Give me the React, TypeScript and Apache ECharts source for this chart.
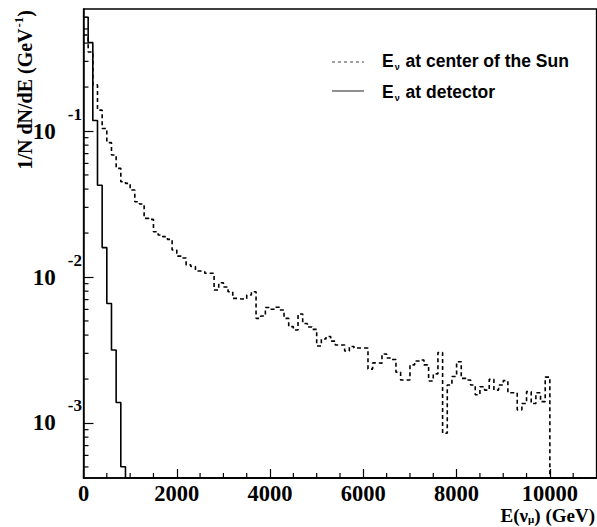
import React, { useEffect, useRef } from 'react';
import * as echarts from 'echarts';

// ---- data (GeV bins of 100) ----
const BIN_WIDTH = 100;
const X_MIN = 0;
const X_MAX = 11000;
const Y_MIN = 4.2e-4;
const Y_MAX = 0.685;

// E_nu at center of the Sun, bins 0-100, 100-200, ... ; last value 0 (empty to the end)
const SUN_CENTER = [
  0.455, 0.348, 0.207, 0.139, 0.104, 0.0832, 0.0685, 0.0555, 0.0449, 0.0438,
  0.0394, 0.0328, 0.0316, 0.0252, 0.0248, 0.0204, 0.0194, 0.0189, 0.0181, 0.0153,
  0.0139, 0.0135, 0.0121, 0.0118, 0.0110, 0.0109, 0.0106, 0.0106, 0.00815, 0.00914,
  0.00854, 0.00793, 0.00714, 0.00707, 0.00707, 0.00753, 0.00793, 0.00521, 0.0054, 0.00618,
  0.00601, 0.0062, 0.00594, 0.00521, 0.00457, 0.00434, 0.00558, 0.0048, 0.00455, 0.00438,
  0.00337, 0.00376, 0.00391, 0.00364, 0.00342, 0.00342, 0.00311, 0.00334, 0.00326, 0.00326,
  0.00326, 0.00234, 0.00258, 0.00257, 0.00297, 0.00279, 0.00272, 0.00223, 0.00197, 0.00197,
  0.0025, 0.00266, 0.0027, 0.0025, 0.00194, 0.00217, 0.00304, 0.00085, 0.00182, 0.00208,
  0.00263, 0.00202, 0.00197, 0.00182, 0.00156, 0.00177, 0.00168, 0.00199, 0.00168, 0.00182,
  0.00195, 0.00161, 0.00161, 0.00123, 0.00136, 0.00164, 0.00136, 0.00161, 0.0014, 0.00206,
  0,
];

// E_nu at detector
const DETECTOR = [0.601, 0.403, 0.118, 0.0425, 0.0159, 0.00659, 0.00316, 0.00138, 0.000502, 0];

const X_TICK_INTERVAL = 2000;
const X_MINOR_TICKS = [500, 1000, 1500, 2500, 3000, 3500, 4500, 5000, 5500, 6500, 7000, 7500, 8500, 9000, 9500, 10500];
const Y_MINOR_TICKS = [
  5e-4, 6e-4, 7e-4, 8e-4, 9e-4,
  2e-3, 3e-3, 4e-3, 5e-3, 6e-3, 7e-3, 8e-3, 9e-3,
  2e-2, 3e-2, 4e-2, 5e-2, 6e-2, 7e-2, 8e-2, 9e-2,
  0.2, 0.3, 0.4, 0.5, 0.6,
];

const LEGEND_SUN = 'at center of the Sun';
const LEGEND_DET = 'at detector';

// ---- helpers ----
function stepPoints(values: number[]) {
  const pts: [number, number][] = values.map((v, i) => [i * BIN_WIDTH, v > 0 ? v : Y_MIN]);
  const last = values[values.length - 1];
  pts.push([X_MAX, last > 0 ? last : Y_MIN]);
  return pts;
}

const serif = '"Liberation Serif", "Times New Roman", serif';
const sans = '"Liberation Sans", Arial, sans-serif';

function buildOption() {
  const minorTick = (dir: 'x' | 'y') => (params: any, api: any) => {
    const p = api.coord([api.value(0), api.value(1)]);
    const shape = dir === 'x'
      ? { x1: p[0], y1: p[1], x2: p[0], y2: p[1] - 5 }
      : { x1: p[0], y1: p[1], x2: p[0] + 5, y2: p[1] };
    return { type: 'line', shape, style: { stroke: '#000', lineWidth: 1.2 } };
  };

  const legendRich = {
    m: { fontFamily: sans, fontWeight: 'bold', fontSize: 17.5, fill: '#000' },
    sub: { fontFamily: sans, fontWeight: 'bold', fontSize: 9, fill: '#000', padding: [11, 1, 0, 1] },
  };

  return {
    animation: false,
    backgroundColor: '#fff',
    grid: {
      left: 83.5, right: 0.5, top: 9, bottom: 49,
      show: true, borderColor: '#000', borderWidth: 1.3, backgroundColor: 'transparent',
    },
    xAxis: {
      type: 'value', min: X_MIN, max: X_MAX, interval: X_TICK_INTERVAL,
      splitLine: { show: false },
      axisLine: { lineStyle: { color: '#000', width: 1.5 } },
      axisTick: { inside: true, length: 9, lineStyle: { color: '#000', width: 1.2 } },
      axisLabel: {
        color: '#000', fontFamily: serif, fontWeight: 'bold', fontSize: 22.5, margin: 4,
        showMaxLabel: false,
        formatter: (v: number) => String(v),
      },
    },
    yAxis: {
      type: 'log', logBase: 10, min: Y_MIN, max: Y_MAX,
      splitLine: { show: false },
      axisLine: { lineStyle: { color: '#000', width: 1.5 } },
      axisTick: { inside: true, length: 10, lineStyle: { color: '#000', width: 1.2 } },
      axisLabel: {
        margin: 1.5, showMinLabel: false, showMaxLabel: false,
        formatter: (v: number) => `{b|10}{s|${Math.round(Math.log10(v))}}`,
        rich: {
          b: { fontFamily: serif, fontWeight: 'bold', fontSize: 23, color: '#000' },
          s: { fontFamily: serif, fontWeight: 'bold', fontSize: 17, color: '#000', padding: [0, 0, 34, 12] },
        },
      },
    },
    series: [
      {
        type: 'line', name: 'sun', data: stepPoints(SUN_CENTER), step: 'end',
        symbol: 'none', showSymbol: false, z: 2,
        lineStyle: { color: '#000', width: 1.6, type: [4, 3] },
      },
      {
        type: 'line', name: 'det', data: stepPoints(DETECTOR), step: 'end',
        symbol: 'none', showSymbol: false, z: 3,
        lineStyle: { color: '#000', width: 1.6 },
      },
      {
        type: 'custom', silent: true, z: 4,
        renderItem: minorTick('x'),
        data: X_MINOR_TICKS.map((x) => [x, Y_MIN]),
      },
      {
        type: 'custom', silent: true, z: 4,
        renderItem: minorTick('y'),
        data: Y_MINOR_TICKS.map((y) => [X_MIN, y]),
      },
    ],
    graphic: [
      {
        type: 'line', shape: { x1: 332, y1: 62, x2: 364, y2: 62 },
        style: { stroke: '#444', lineWidth: 1.2, lineDash: [3, 3] },
      },
      {
        type: 'text', x: 382, y: 61,
        style: {
          text: `{m|E}{sub|ν}{m| ${LEGEND_SUN}}`, align: 'left', verticalAlign: 'middle',
          rich: legendRich,
        },
      },
      {
        type: 'line', shape: { x1: 332, y1: 91, x2: 364, y2: 91 },
        style: { stroke: '#444', lineWidth: 1.2 },
      },
      {
        type: 'text', x: 382, y: 92,
        style: {
          text: `{m|E}{sub|ν}{m| ${LEGEND_DET}}`, align: 'left', verticalAlign: 'middle',
          rich: legendRich,
        },
      },
      {
        type: 'text', x: 25, y: 10, rotation: Math.PI / 2,
        style: {
          text: '{t|1/N dN/dE (GeV}{sup|-1}{t|)}', align: 'right', verticalAlign: 'middle',
          rich: {
            t: { fontFamily: serif, fontWeight: 'bold', fontSize: 20, fill: '#000' },
            sup: { fontFamily: serif, fontWeight: 'bold', fontSize: 13, fill: '#000', padding: [0, 0, 14, 1] },
          },
        },
      },
      {
        type: 'text', x: 595, y: 515.5,
        style: {
          text: '{t|E(ν}{sub|μ}{t|) (GeV)}', align: 'right', verticalAlign: 'middle',
          rich: {
            t: { fontFamily: serif, fontWeight: 'bold', fontSize: 19, fill: '#000' },
            sub: { fontFamily: serif, fontWeight: 'bold', fontSize: 11, fill: '#000', padding: [7, 0, 0, 0] },
          },
        },
      },
    ],
  };
}

export default function App() {
  const ref = useRef<HTMLDivElement>(null);
  useEffect(() => {
    const chart = echarts.init(ref.current as HTMLDivElement, null, { renderer: 'svg' });
    chart.setOption(buildOption() as any);
    return () => chart.dispose();
  }, []);
  return (
    <div
      ref={ref}
      style={{ position: 'absolute', left: 0, top: 0, width: 597, height: 527, background: '#fff' }}
    />
  );
}
